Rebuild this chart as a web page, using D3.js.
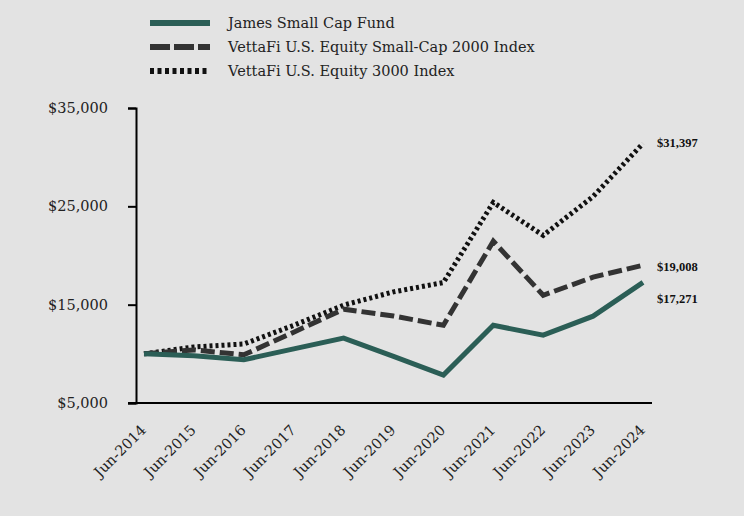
<!DOCTYPE html>
<html><head><meta charset="utf-8">
<script src="https://cdn.jsdelivr.net/npm/d3@7/dist/d3.min.js"></script>
<style>body{margin:0;background:#e3e3e3;}svg{display:block;}</style>
</head><body>
<svg id="c" width="744" height="516"></svg>
<script>
const years = ["Jun-2014","Jun-2015","Jun-2016","Jun-2017","Jun-2018","Jun-2019","Jun-2020","Jun-2021","Jun-2022","Jun-2023","Jun-2024"];
const fund = [10000, 9800, 9400, 10500, 11600, 9750, 7850, 12900, 11900, 13830, 17271];
const smallCap = [10000, 10400, 9900, 12200, 14540, 13850, 12900, 21450, 15960, 17800, 19008];
const total3000 = [10000, 10700, 11000, 12900, 14950, 16300, 17250, 25400, 22050, 26000, 31397];
const seriesNames = ["James Small Cap Fund","VettaFi U.S. Equity Small-Cap 2000 Index","VettaFi U.S. Equity 3000 Index"];
const endLabels = ["$17,271","$19,008","$31,397"];
const yTicks = [5000, 15000, 25000, 35000];

const svg = d3.select("#c");
svg.append("rect").attr("width",744).attr("height",516).attr("fill","#e3e3e3");
const serif = "'DejaVu Serif', serif";

const x = d3.scalePoint().domain(years).range([144, 643]);
const y = d3.scaleLinear().domain([5000, 35000]).range([403, 108]);

const styles = [
  {color:"#2b5e56", dash:null, legDash:null},
  {color:"#333333", dash:"14,5", legDash:"20,4"},
  {color:"#111111", dash:"3,3", legDash:"4,3.5"}
];
const data = [fund, smallCap, total3000];

// axes
const yAxis = svg.append("g").attr("transform","translate(136,0)")
  .call(d3.axisLeft(y).tickValues(yTicks).tickSize(8).tickPadding(20).tickFormat(d=>"$"+d3.format(",")(d)));
yAxis.select(".domain").attr("stroke","#000").attr("stroke-width",2);
yAxis.selectAll(".tick line").attr("stroke","#000").attr("stroke-width",2);
yAxis.selectAll("text").attr("font-family",serif).attr("font-size",14.5).attr("fill","#222");

const xAxisG = svg.append("g").attr("transform","translate(0,403)");
xAxisG.append("line").attr("x1",128).attr("x2",652).attr("stroke","#000").attr("stroke-width",2);
xAxisG.selectAll("text").data(years).join("text")
  .attr("transform",d=>`translate(${x(d)+3},${28}) rotate(-45)`)
  .attr("text-anchor","end").attr("font-family",serif).attr("font-size",14.5).attr("fill","#222")
  .text(d=>d);

// lines
const line = d3.line().x((d,i)=>x(years[i])).y(d=>y(d));
[2,1,0].forEach(k=>{
  svg.append("path").datum(data[k]).attr("d",line)
    .attr("fill","none").attr("stroke",styles[k].color).attr("stroke-width",5)
    .attr("stroke-dasharray",styles[k].dash);
});

// end labels
[0,1,2].forEach(k=>{
  const v = data[k][data[k].length-1];
  const dy = k===0 ? 17 : (k===1 ? 2 : 0);
  svg.append("text").attr("x",657).attr("y",y(v)+4+dy)
    .attr("font-family","'Liberation Serif', serif").attr("font-weight","bold").attr("font-size",12.5)
    .attr("fill","#111").text(endLabels[k]);
});

// legend
seriesNames.forEach((n,k)=>{
  const ly = 23 + k*24;
  svg.append("line").attr("x1",150).attr("x2",210).attr("y1",ly).attr("y2",ly)
    .attr("stroke",styles[k].color).attr("stroke-width",6).attr("stroke-dasharray",styles[k].legDash);
  svg.append("text").attr("x",228).attr("y",ly+5).attr("font-family",serif).attr("font-size",14.5)
    .attr("fill","#222").text(n);
});
</script>
</body></html>
